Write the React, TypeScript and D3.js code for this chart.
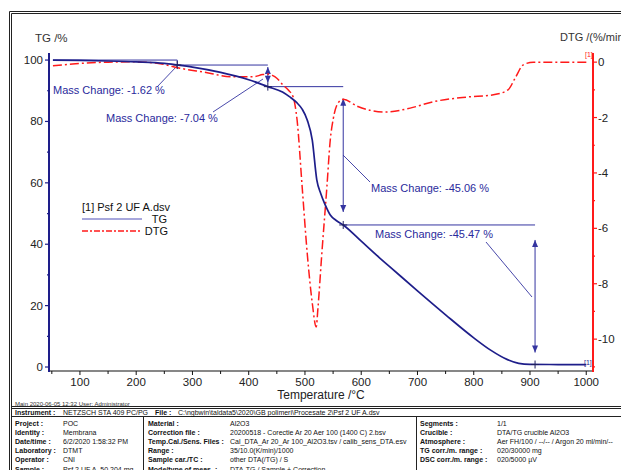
import React from "react";
import * as d3 from "d3";

const tgTemp = [52, 100, 150, 200, 250, 273, 300, 350, 400, 434, 460, 473, 485, 495, 504, 513, 521, 528, 536, 545, 555, 568, 600, 633, 650, 700, 750, 800, 830, 860, 880, 900, 950, 1000];
const tgValue = [100, 99.9, 99.7, 99.4, 98.9, 98.38, 97.7, 96.0, 93.6, 91.34, 89.6, 88.0, 86.2, 84.0, 80.5, 73.9, 61, 56.5, 52.8, 49.5, 47.8, 46.28, 41, 35.5, 32.8, 24.8, 17, 9.5, 5.5, 2.4, 1.2, 0.85, 0.8, 0.75];

const dtgTemp = [52, 80, 112, 150, 194, 237, 278, 320, 372, 408, 425, 434, 442, 450, 461, 470, 479, 486, 495, 504, 513, 520, 523, 530, 539, 545, 550, 558, 568, 594, 643, 687, 728, 788, 835, 861, 874, 888, 906, 950, 1001];
const dtgValue = [-0.13, -0.08, -0.03, 0.0, 0.01, -0.04, -0.22, -0.36, -0.53, -0.53, -0.45, -0.43, -0.48, -0.58, -0.83, -1.0, -1.26, -2.09, -4.5, -6.9, -8.7, -9.56, -8.9, -6.9, -4.5, -2.8, -2.08, -1.5, -1.34, -1.6, -1.8, -1.66, -1.43, -1.26, -1.18, -1.0, -0.56, -0.1, 0, 0, 0];

const xTicks = [100, 200, 300, 400, 500, 600, 700, 800, 900, 1000];
const tgTicks = [0, 20, 40, 60, 80, 100];
const dtgTicks = [0, -2, -4, -6, -8, -10];

const stepTemps = [52, 273, 434, 568, 909];
const stepLevels = [100, 98.38, 91.34, 46.28, 0.81];
const stepLabels = ["Mass Change: -1.62 %", "Mass Change: -7.04 %", "Mass Change: -45.06 %", "Mass Change: -45.47 %"];

const infoCol1 = [["Project :", "POC"], ["Identity :", "Membrana"], ["Date/time :", "6/2/2020 1:58:32 PM"], ["Laboratory :", "DTMT"], ["Operator :", "CNI"], ["Sample :", "Psf 2 UF A, 50.204 mg"]];
const infoCol2 = [["Material :", "Al2O3"], ["Correction file :", "20200518 - Corectie Ar 20 Aer 100 (1400 C) 2.bsv"], ["Temp.Cal./Sens. Files :", "Cal_DTA_Ar 20_Ar 100_Al2O3.tsv / calib_sens_DTA.esv"], ["Range :", "35/10.0(K/min)/1000"], ["Sample car./TC :", "other DTA(/TG) / S"], ["Mode/type of meas. :", "DTA-TG / Sample + Correction"]];
const infoCol3 = [["Segments :", "1/1"], ["Crucible :", "DTA/TG crucible Al2O3"], ["Atmosphere :", "Aer FH/100 / --/-- / Argon 20 ml/min/--"], ["TG corr./m. range :", "020/30000 mg"], ["DSC corr./m. range :", "020/5000 µV"]];

const NAVY = "#1e1e8a";
const ANN = "#3434a0";
const RED = "#ff1a1a";
const FONT = "Liberation Sans, Arial, sans-serif";

export default function App() {
  const x = d3.scaleLinear().domain([45, 1012]).range([49, 593]);
  const yTG = d3.scaleLinear().domain([-1.3, 102.3]).range([371, 53]);
  const yDTG = d3.scaleLinear().domain([-11.15, 0.33]).range([371, 53]);

  const tgLine = d3.line<number>().x((d, i) => x(tgTemp[i])).y((d) => yTG(d)).curve(d3.curveMonotoneX);
  const dtgLine = d3.line<number>().x((d, i) => x(dtgTemp[i])).y((d) => yDTG(d)).curve(d3.curveMonotoneX);

  const minorX = d3.range(50, 1001, 50);
  const minorTG = d3.range(0, 101, 10);
  const minorDTG = d3.range(-11, 1, 1);

  const arrowHead = (cx: number, cy: number, dir: number) =>
    `M${cx},${cy} L${cx - 3},${cy - 7 * dir} L${cx + 3},${cy - 7 * dir} Z`;

  const cross = (cx: number, cy: number, k: string) => (
    <g key={k} stroke="#202060" strokeWidth={1}>
      <line x1={cx - 4} x2={cx + 4} y1={cy} y2={cy} />
      <line x1={cx} x2={cx} y1={cy - 4} y2={cy + 4} />
    </g>
  );

  const labelPos = [
    { tx: 53, ty: 94, l: [157, 87, 177, 66] },
    { tx: 106, ty: 122, l: [213, 112, 263, 79] },
    { tx: 371, ty: 192, l: [370, 182, 343, 155] },
    { tx: 375, ty: 238, l: [486, 242, 532, 297] },
  ];
  const arrowInset = [
    [0, 0],
    [2, 4],
    [12, 13],
    [15, 12],
  ];

  return (
    <svg width={621} height={470} style={{ position: "absolute", left: 0, top: 0, background: "#fff" }} fontFamily={FONT}>
      <rect x={0} y={0} width={621} height={470} fill="#fff" />
      <g stroke="#222" strokeWidth={1} fill="none">
        <line x1={9.5} x2={621} y1={11.5} y2={11.5} />
        <line x1={11.5} x2={621} y1={13.5} y2={13.5} />
        <line x1={9.5} x2={9.5} y1={11.5} y2={470} />
        <line x1={11.5} x2={11.5} y1={13.5} y2={470} />
        <line x1={11.5} x2={621} y1={406.5} y2={406.5} />
        <line x1={11.5} x2={621} y1={408.5} y2={408.5} />
        <line x1={11.5} x2={621} y1={416.5} y2={416.5} />
        <line x1={143.5} x2={143.5} y1={416.5} y2={470} />
        <line x1={416.5} x2={416.5} y1={416.5} y2={470} />
      </g>

      <text x={35} y={42} fontSize={11.5} fill="#333">TG /%</text>
      <text x={560} y={41} fontSize={11} fill="#333">DTG /(%/min)</text>

      <line x1={49} x2={593} y1={371} y2={371} stroke="#111" strokeWidth={1.2} />
      {minorX.map((t) => (
        <line key={"mx" + t} x1={x(t)} x2={x(t)} y1={371} y2={t % 100 === 0 ? 375 : 374} stroke="#111" strokeWidth={1} />
      ))}
      {xTicks.map((t) => (
        <text key={"xt" + t} x={x(t)} y={386} fontSize={11.5} fill="#222" textAnchor="middle">{t}</text>
      ))}
      <text x={321} y={399} fontSize={12} fill="#222" textAnchor="middle">Temperature /°C</text>

      <line x1={49} x2={49} y1={53} y2={372} stroke={NAVY} strokeWidth={2} />
      {minorTG.map((v) => (
        <line key={"mt" + v} x1={v % 20 === 0 ? 45 : 47} x2={49} y1={yTG(v)} y2={yTG(v)} stroke={NAVY} strokeWidth={1.2} />
      ))}
      {tgTicks.map((v) => (
        <text key={"tt" + v} x={43} y={yTG(v) + 4} fontSize={11.5} fill="#222" textAnchor="end">{v}</text>
      ))}

      <line x1={593} x2={593} y1={53} y2={372} stroke={RED} strokeWidth={2} />
      {minorDTG.map((v) => (
        <line key={"md" + v} x1={593} x2={v % 2 === 0 ? 597 : 595} y1={yDTG(v)} y2={yDTG(v)} stroke={RED} strokeWidth={1.2} />
      ))}
      {dtgTicks.map((v) => (
        <text key={"dt" + v} x={598} y={yDTG(v) + 4} fontSize={11.5} fill="#222">{v}</text>
      ))}

      <g stroke={ANN} strokeWidth={1} fill="none">
        {stepLabels.map((_, i) => {
          const x0 = x(stepTemps[i]);
          const x1 = x(stepTemps[i + 1]);
          const yTop = yTG(stepLevels[i]);
          const yBot = yTG(stepLevels[i + 1]);
          const [a, b] = arrowInset[i];
          const lp = labelPos[i];
          return (
            <g key={"ann" + i}>
              <line x1={x0} x2={x1} y1={yTop} y2={yTop} />
              <line x1={x1} x2={x1} y1={yTop + a} y2={yBot - b} />
              {i > 0 && <path d={arrowHead(x1, yTop + a, -1)} fill={ANN} stroke="none" />}
              {i > 0 && <path d={arrowHead(x1, yBot - b, 1)} fill={ANN} stroke="none" />}
              <line x1={lp.l[0]} y1={lp.l[1]} x2={lp.l[2]} y2={lp.l[3]} strokeWidth={0.9} />
            </g>
          );
        })}
      </g>
      {stepLabels.map((s, i) => (
        <text key={"lab" + i} x={labelPos[i].tx} y={labelPos[i].ty} fontSize={11} fill="#2a2a9c">{s}</text>
      ))}

      <path d={dtgLine(dtgValue) || ""} fill="none" stroke={RED} strokeWidth={1.5} strokeDasharray="9,3,2,3" />
      <path d={tgLine(tgValue) || ""} fill="none" stroke={NAVY} strokeWidth={1.7} />
      {stepTemps.slice(1).map((t, i) => cross(x(t), yTG(stepLevels[i + 1]), "c" + i))}

      <text x={584} y={365} fontSize={7} fill={NAVY}>[1]</text>
      <text x={585} y={57} fontSize={7} fill={RED}>[1]</text>

      <text x={82} y={211} fontSize={11} fill="#111">[1] Psf 2 UF A.dsv</text>
      <line x1={82} x2={142} y1={219} y2={219} stroke="#8a8ad0" strokeWidth={1.5} />
      <text x={167} y={223} fontSize={11} fill="#111" textAnchor="end">TG</text>
      <line x1={82} x2={142} y1={231} y2={231} stroke={RED} strokeWidth={1.3} strokeDasharray="6,2,2,2" />
      <text x={168} y={235} fontSize={11} fill="#111" textAnchor="end">DTG</text>

      <text x={15} y={406} fontSize={6} fill="#333">Main   2020-06-05 12:32   User: Administrator</text>
      <text x={15} y={415} fontSize={7} fill="#111" fontWeight="bold">Instrument :</text>
      <text x={63} y={415} fontSize={7} fill="#111">NETZSCH STA 409 PC/PG</text>
      <text x={155} y={415} fontSize={7} fill="#111" fontWeight="bold">File :</text>
      <text x={178} y={415} fontSize={7} fill="#111">C:\ngbwin\taldata5\2020\GB polimeri\Procesate 2\Psf 2 UF A.dsv</text>
      {infoCol1.map((r, i) => (
        <g key={"c1" + i}>
          <text x={15} y={425.5 + i * 9.2} fontSize={7} fill="#111" fontWeight="bold">{r[0]}</text>
          <text x={63} y={425.5 + i * 9.2} fontSize={7} fill="#111">{r[1]}</text>
        </g>
      ))}
      {infoCol2.map((r, i) => (
        <g key={"c2" + i}>
          <text x={148} y={425.5 + i * 9.2} fontSize={7} fill="#111" fontWeight="bold">{r[0]}</text>
          <text x={230} y={425.5 + i * 9.2} fontSize={7} fill="#111">{r[1]}</text>
        </g>
      ))}
      {infoCol3.map((r, i) => (
        <g key={"c3" + i}>
          <text x={420} y={425.5 + i * 9.2} fontSize={7} fill="#111" fontWeight="bold">{r[0]}</text>
          <text x={497} y={425.5 + i * 9.2} fontSize={7} fill="#111">{r[1]}</text>
        </g>
      ))}
    </svg>
  );
}
